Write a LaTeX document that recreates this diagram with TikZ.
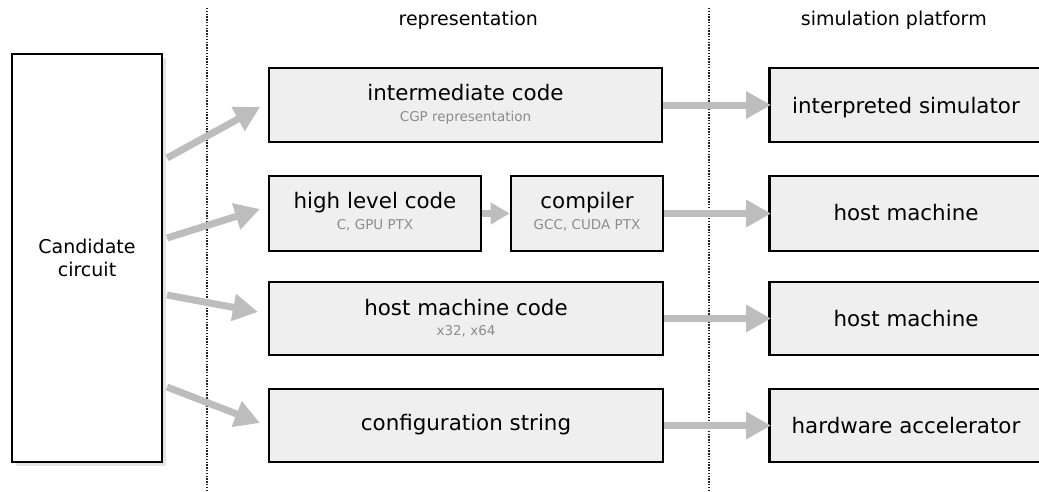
\documentclass[tikz,border=0pt]{standalone}
\usepackage{fontspec}
\setmainfont{DejaVu Sans}
\usetikzlibrary{arrows.meta,shadows}
\definecolor{boxfill}{HTML}{EFEFEF}
\definecolor{arrowgray}{HTML}{BDBDBD}
\definecolor{subgray}{HTML}{8C8C8C}
\definecolor{sepgray}{HTML}{222222}
\begin{document}
\begin{tikzpicture}[x=1pt,y=-1pt,
  box/.style={draw=black, line width=2.9pt, fill=boxfill, inner sep=0pt},
  ttl/.style={anchor=base, inner sep=0pt, font=\fontsize{21.4}{25}\selectfont},
  sub/.style={anchor=base, inner sep=0pt, text=subgray, font=\fontsize{13.5}{16}\selectfont},
  hdr/.style={anchor=base, inner sep=0pt, font=\fontsize{19}{23}\selectfont},
  flow/.style={draw=arrowgray, line width=7pt, -{Triangle[length=25pt,width=26pt]}},
  smallflow/.style={draw=arrowgray, line width=7pt, -{Triangle[length=19pt,width=21pt]}},
  sep/.style={draw=sepgray, line width=1.2pt, dash pattern=on 1.4pt off 1.4pt}
]
\useasboundingbox (0,0) rectangle (1039,491);
\clip (0,0) rectangle (1039,491);

% separators
\coordinate (s1t) at (207,8);
\coordinate (s1b) at (207,491);
\coordinate (s2t) at (709,8);
\coordinate (s2b) at (709,491);
\draw[sep] (s1t) -- (s1b);
\draw[sep] (s2t) -- (s2b);

% headers
\node[hdr] (hrep) at (468.3,25) {representation};
\node[hdr] (hsim) at (893.8,25) {simulation platform};

% candidate
\node[draw=black, line width=2.9pt, fill=white, inner sep=0pt,
      minimum width=150pt, minimum height=408pt,
      drop shadow={shadow xshift=4pt, shadow yshift=-4pt, opacity=0.22, fill=gray}]
      (cand) at (87,258) {};
\node[hdr] (cand1) at (87,253.3) {Candidate};
\node[hdr] (cand2) at (87,276.7) {circuit};

% representation boxes
\node[box, minimum width=393pt, minimum height=74pt] (ic) at (465.5,105) {};
\node[ttl] (ict) at (465.5,100.7) {intermediate code};
\node[sub] (ics) at (465.5,121.7) {CGP representation};

\node[box, minimum width=212pt, minimum height=75pt] (hl) at (375,213.5) {};
\node[ttl] (hlt) at (375,208) {high level code};
\node[sub] (hls) at (375,229) {C, GPU PTX};

\node[box, minimum width=152pt, minimum height=75pt] (comp) at (587,213.5) {};
\node[ttl] (compt) at (587,208) {compiler};
\node[sub] (comps) at (587,229) {GCC, CUDA PTX};

\node[box, minimum width=394pt, minimum height=73pt] (hmc) at (466,318.5) {};
\node[ttl] (hmct) at (466,315) {host machine code};
\node[sub] (hmcs) at (466,335.7) {x32, x64};

\node[box, minimum width=394pt, minimum height=73pt] (cs) at (466,425.5) {};
\node[ttl] (cst) at (466,430) {configuration string};

% platform boxes
\node[box, minimum width=273pt, minimum height=74pt] (p1) at (906,105) {};
\node[ttl] (p1t) at (906,113) {interpreted simulator};
\node[box, minimum width=273pt, minimum height=75pt] (p2) at (906,213.5) {};
\node[ttl] (p2t) at (906,220) {host machine};
\node[box, minimum width=273pt, minimum height=73pt] (p3) at (906,318.5) {};
\node[ttl] (p3t) at (906,326.7) {host machine};
\node[box, minimum width=273pt, minimum height=73pt] (p4) at (906,425.5) {};
\node[ttl] (p4t) at (906,433.3) {hardware accelerator};

% arrows from candidate
\coordinate (a1s) at (167,158);
\coordinate (a1e) at (260,107);
\coordinate (a2s) at (167,238);
\coordinate (a2e) at (260,209);
\coordinate (a3s) at (167,295);
\coordinate (a3e) at (258,312);
\coordinate (a4s) at (167,387);
\coordinate (a4e) at (260,423);
\draw[flow] (a1s) -- (a1e);
\draw[flow] (a2s) -- (a2e);
\draw[flow] (a3s) -- (a3e);
\draw[flow] (a4s) -- (a4e);

% small arrow
\draw[smallflow] (hl.east) -- (comp.west);

% horizontal arrows
\draw[flow] (ic.east) -- ([xshift=3pt]p1.west);
\draw[flow] (comp.east) -- ([xshift=3pt]p2.west);
\draw[flow] (hmc.east) -- ([xshift=3pt]p3.west);
\draw[flow] (cs.east) -- ([xshift=3pt]p4.west);
\end{tikzpicture}
\end{document}
